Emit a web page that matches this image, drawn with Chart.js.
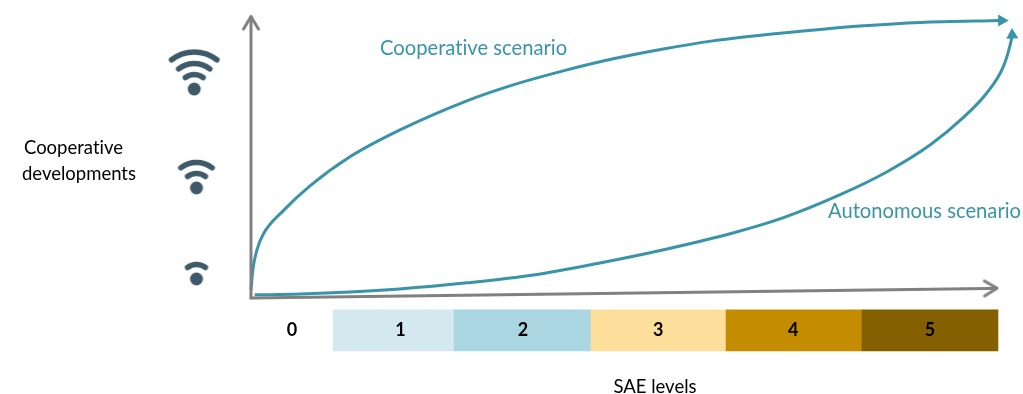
<!DOCTYPE html>
<html lang="en">
<head>
    <meta charset="UTF-8">
    <title>Cooperative and autonomous scenarios</title>
    <script src="https://cdn.jsdelivr.net/npm/chart.js@4/dist/chart.umd.min.js"></script>
    <style>
        body { margin: 0; background: #fff; }
        canvas { display: block; }
    </style>
</head>
<body>
<canvas id="scenarioChart" width="1023" height="394"></canvas>
<script>
    // values are percent of each axis
    const cooperativeX = [0, 0.27, 0.8, 1.6, 4.3, 7.9, 13.25, 19.95, 28.9, 35.1, 41.8, 48.5, 55.2, 61.8, 68.5, 76.2, 81.5, 89.6, 100.5];
    const cooperativeY = [2.9, 10.5, 17.2, 22.6, 31.1, 40, 50.4, 60, 70.4, 76.1, 81.1, 85.4, 88.9, 91.8, 93.9, 95.9, 97.1, 98.4, 99.1];
    const autonomousX = [0.5, 6.6, 13.3, 19.9, 28.9, 37.8, 46.7, 55.7, 64.5, 71.2, 78.8, 85.1, 90.9, 95.3, 98.5, 100.7, 101.7, 101.9];
    const autonomousY = [1.1, 1.4, 2.1, 3.2, 5.4, 8.2, 12.5, 17.5, 23.2, 28.6, 36.8, 45, 54.6, 64.3, 73.2, 82.5, 91.1, 93.9];

    // last but one point carries the arrow head, last point is the tip
    const xAxisX = [0, 98.6, 99.8];
    const xAxisY = [0, 3.4, 3.5];
    const yAxisX = [0, 0, 0];
    const yAxisY = [0, 97.1, 100.4];

    const saeLevels = ["0", "1", "2", "3", "4", "5"];
    const bandEdges = [0, 11, 27.2, 45.5, 63.6, 81.8, 100];
    const bandLabelX = [5.5, 20, 36.4, 54.5, 72.6, 90.9];
    const bandColors = ["#ffffff", "#d3e9ef", "#aad6e2", "#fddf9b", "#c48c00", "#846000"];
    const bandY = -11.6;

    const wifiLevels = [3, 2, 1];
    const wifiX = [-7.6, -7.3, -7.3];
    const wifiY = [74.6, 39.3, 6.8];

    const teal = "#3a94a9";
    const grey = "#808080";

    function toPoints(xs, ys) {
        return xs.map(function (x, i) { return { x: x, y: ys[i] }; });
    }

    // wifi symbol, dot sits in the middle of the canvas
    function wifiIcon(level) {
        const c = document.createElement("canvas");
        c.width = 90;
        c.height = 90;
        const ctx = c.getContext("2d");
        const color = "#3e5a68";
        ctx.fillStyle = color;
        ctx.strokeStyle = color;
        ctx.lineWidth = 5.5;
        ctx.lineCap = "round";
        ctx.beginPath();
        ctx.arc(45, 45, 6.5, 0, Math.PI * 2);
        ctx.fill();
        const radii = [14.5, 25.5, 37];
        for (let i = 0; i < level; i++) {
            ctx.beginPath();
            ctx.arc(45, 45, radii[i], -Math.PI * 0.71, -Math.PI * 0.29);
            ctx.stroke();
        }
        return c;
    }

    // open arrow head for the axes, pointing up
    function axisHead() {
        const c = document.createElement("canvas");
        c.width = 24;
        c.height = 24;
        const ctx = c.getContext("2d");
        ctx.strokeStyle = grey;
        ctx.lineWidth = 3;
        ctx.lineCap = "round";
        ctx.lineJoin = "round";
        ctx.beginPath();
        ctx.moveTo(4.5, 15);
        ctx.lineTo(12, 2.5);
        ctx.lineTo(19.5, 15);
        ctx.stroke();
        return c;
    }

    function lastOnly(points, value) {
        return points.map(function (p, i) { return i === points.length - 1 ? value : 0; });
    }

    function axisDataset(points, rotation) {
        return {
            type: "line",
            data: points,
            borderColor: grey,
            borderWidth: 3,
            borderCapStyle: "round",
            tension: 0,
            clip: false,
            pointStyle: axisHead(),
            pointRadius: [0, 8, 0],
            pointRotation: rotation
        };
    }

    function curveDataset(points, rotation) {
        return {
            type: "line",
            data: points,
            borderColor: teal,
            borderWidth: 3,
            cubicInterpolationMode: "monotone",
            clip: false,
            pointStyle: "triangle",
            pointBackgroundColor: teal,
            pointBorderColor: teal,
            pointBorderWidth: 0,
            pointRadius: lastOnly(points, 7),
            pointRotation: rotation
        };
    }

    const textLabels = {
        id: "textLabels",
        afterDraw(chart) {
            const ctx = chart.ctx;
            const xs = chart.scales.x;
            const ys = chart.scales.y;
            ctx.save();
            ctx.textBaseline = "middle";
            ctx.textRendering = "optimizeSpeed"; // no "ti" ligature

            ctx.textAlign = "center";
            ctx.fillStyle = "#000000";
            ctx.font = "bold 18px Lato";
            saeLevels.forEach(function (t, i) {
                ctx.fillText(t, xs.getPixelForValue(bandLabelX[i]), ys.getPixelForValue(bandY));
            });

            ctx.font = "18.5px Lato";
            ctx.fillText("Cooperative", 73.5, 148);
            ctx.fillText("developments", 79, 174);
            ctx.fillText("SAE levels", 655, 387);

            ctx.textAlign = "left";
            ctx.fillStyle = teal;
            ctx.font = "20.2px Lato";
            ctx.fillText("Cooperative scenario", 380, 48);
            ctx.fillText("Autonomous scenario", 828, 211);
            ctx.restore();
        }
    };

    const bandData = saeLevels.map(function (level, i) {
        return { x: [bandEdges[i], bandEdges[i + 1]], y: bandY };
    });

    new Chart(document.getElementById("scenarioChart"), {
        type: "bar",
        data: {
            datasets: [
                {
                    type: "bar",
                    indexAxis: "y",
                    data: bandData,
                    backgroundColor: bandColors,
                    borderWidth: 0,
                    barThickness: 41
                },
                axisDataset(toPoints(xAxisX, xAxisY), 89),
                axisDataset(toPoints(yAxisX, yAxisY), 0),
                curveDataset(toPoints(cooperativeX, cooperativeY), 90),
                curveDataset(toPoints(autonomousX, autonomousY), -2),
                {
                    type: "line",
                    data: toPoints(wifiX, wifiY),
                    showLine: false,
                    pointStyle: wifiLevels.map(wifiIcon)
                }
            ]
        },
        options: {
            responsive: false,
            animation: false,
            layout: { padding: 0, autoPadding: false },
            plugins: { legend: { display: false }, tooltip: { enabled: false } },
            scales: {
                // axis origin sits inside the canvas, the range covers the whole picture
                x: { type: "linear", min: -33.6, max: 103.35, offset: false, display: false },
                y: { type: "linear", min: -34.3, max: 106.4, offset: false, display: false }
            }
        },
        plugins: [textLabels]
    });
</script>
</body>
</html>
